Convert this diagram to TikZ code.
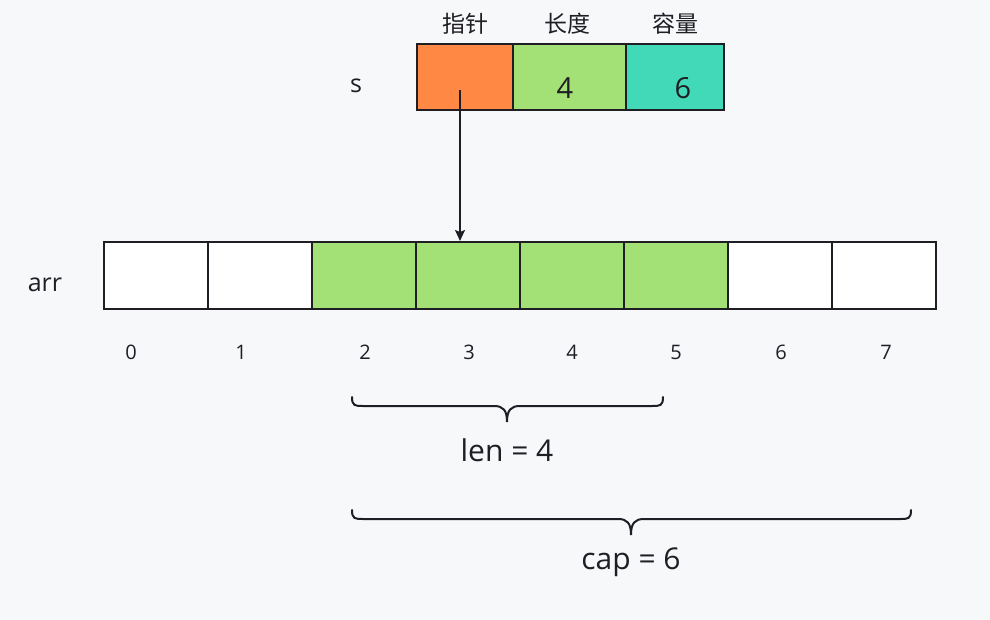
\documentclass[tikz,border=0pt]{standalone}
\usepackage{fontspec}
\setmainfont{Open Sans}
\newfontfamily\cjk{Noto Sans CJK SC}
\usetikzlibrary{arrows.meta}
\definecolor{bg}{HTML}{F7F8FA}
\definecolor{orangec}{HTML}{FF8844}
\definecolor{greenc}{HTML}{A3E075}
\definecolor{tealc}{HTML}{42D9B9}
\definecolor{ink}{HTML}{1E1E24}
\begin{document}
\begin{tikzpicture}[x=1pt,y=-1pt,
  cellbox/.style={draw=ink, line width=2pt, minimum width=104pt, minimum height=67pt, inner sep=0pt, fill=white},
  greencell/.style={cellbox, fill=greenc},
  sbox/.style={draw=ink, line width=2pt, minimum height=66pt, inner sep=0pt},
  idx/.style={font=\fontsize{20}{24}\selectfont, text=ink},
  hdr/.style={font=\cjk\fontsize{23}{27}\selectfont, text=ink},
  big/.style={font=\fontsize{30}{35}\selectfont, text=ink},
  sval/.style={font=\fontsize{29}{34}\selectfont, text=ink},
  lab/.style={font=\fontsize{25}{30}\selectfont, text=ink},
  bracepath/.style={draw=ink, line width=2pt, line cap=round},
  conn/.style={draw=ink, line width=1.6pt, -{Stealth[length=11pt,width=10pt,inset=2pt]}}
]
\fill[bg] (0,0) rectangle (990,620);
\useasboundingbox (0,0) rectangle (990,620);

% s struct
\node[sbox, fill=orangec, minimum width=96pt] (sp) at (465,77) {};
\node[sbox, fill=greenc, minimum width=113pt] (sl) at (569.5,77) {};
\node[sbox, fill=tealc, minimum width=98pt] (sc) at (675,77) {};
\node[sval] (slv) at (565,88) {4};
\node[sval] (scv) at (683,88) {6};
\node[hdr] (hp) at (465,24) {指针};
\node[hdr] (hl) at (567,24) {长度};
\node[hdr] (hc) at (675,24) {容量};
\node[lab] (slab) at (356,86) {s};

% array
\foreach \i in {0,1,6,7} {
  \node[cellbox] (c\i) at ({156+104*\i},275.5) {};
}
\foreach \i in {2,3,4,5} {
  \node[greencell] (c\i) at ({156+104*\i},275.5) {};
}
\node[lab] (alab) at (45,285) {arr};

% indices
\node[idx] (i0) at (131,352) {0};
\node[idx] (i1) at (241,352) {1};
\node[idx] (i2) at (365,352) {2};
\node[idx] (i3) at (469,352) {3};
\node[idx] (i4) at (572,352) {4};
\node[idx] (i5) at (676,352) {5};
\node[idx] (i6) at (781,352) {6};
\node[idx] (i7) at (886,352) {7};

% pointer arrow
\coordinate (ps) at (460,90);
\draw[conn] (ps) -- (ps |- c3.north);

% len brace
\draw[bracepath] (352,397) .. controls (352,406) and (355,406) .. (363,406) -- (494,406) .. controls (503,406) and (507,410) .. (507,422)
  .. controls (507,410) and (511,406) .. (520,406) -- (652,406) .. controls (660,406) and (663,406) .. (663,397);
\node[big] (lenlab) at (507,450) {len = 4};

% cap brace
\draw[bracepath] (352,510) .. controls (352,519) and (355,519) .. (363,519) -- (618,519) .. controls (627,519) and (631,523) .. (631,535)
  .. controls (631,523) and (635,519) .. (644,519) -- (900,519) .. controls (908,519) and (911,519) .. (911,510);
\node[big] (caplab) at (631,562) {cap = 6};
\end{tikzpicture}
\end{document}
